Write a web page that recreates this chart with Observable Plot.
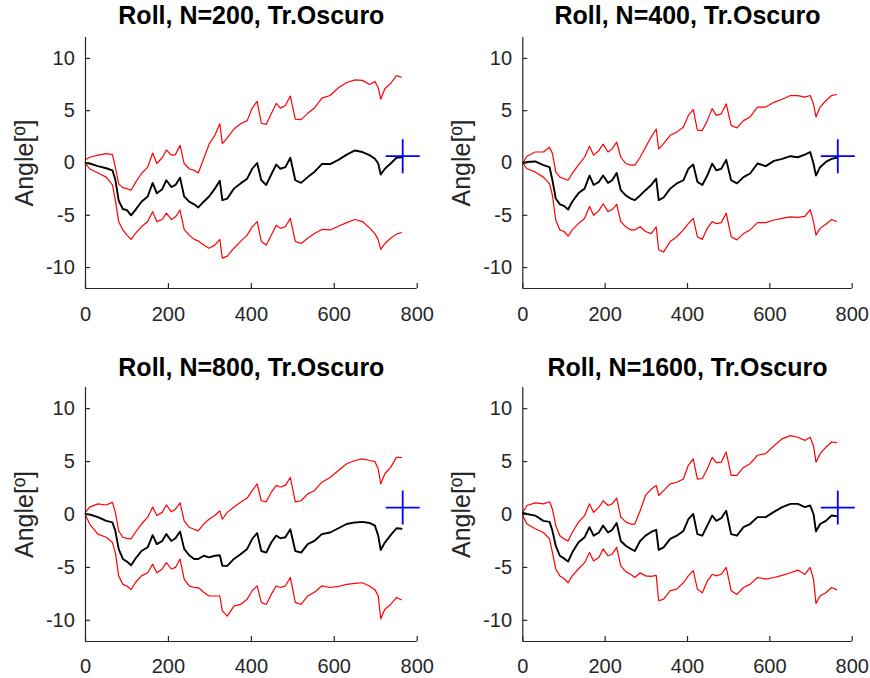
<!DOCTYPE html>
<html>
<head>
<meta charset="utf-8">
<script src="https://cdn.jsdelivr.net/npm/d3@7"></script>
<script src="https://cdn.jsdelivr.net/npm/@observablehq/plot@0.6"></script>
<style>
  html, body { margin: 0; padding: 0; background: #ffffff; }
  #fig { position: relative; width: 870px; height: 678px; overflow: hidden; }
  .panel { position: absolute; }
</style>
</head>
<body>
<div id="fig"></div>
<script>
// Sample positions (frame index) shared by every trace
const sampleX = [0,10,30,50,65,72,80,90,100,110,120,135,150,162,172,185,195,207,217,228,
  238,250,262,272,285,298,312,324,330,342,358,374,390,402,414,424,436,448,460,470,
  482,494,506,520,536,552,570,590,610,630,650,668,685,698,706,712,722,736,750,762];

// N = 200
const est200 = [0,-0.05,-0.3,-0.5,-0.7,-1.6,-3.6,-4.4,-4.5,-5.0,
  -4.5,-3.7,-3.2,-1.9,-2.9,-2.5,-1.65,-2.3,-2.1,-1.4,
  -3.2,-3.7,-3.95,-4.25,-3.7,-3.2,-2.45,-1.7,-3.55,-3.4,
  -2.45,-1.95,-1.5,-0.55,0,-1.65,-2.1,-1.1,-0.15,-0.55,
  -0.4,0.5,-1.65,-1.9,-1.35,-0.85,-0.1,-0.1,0.3,0.8,
  1.2,1.05,0.75,0.4,-0.05,-1.1,-0.55,-0.05,0.5,0.55];
const upper200 = [0.3,0.55,0.75,0.9,0.8,-0.4,-2.0,-2.35,-2.45,-2.6,
  -1.9,-1.0,-0.4,0.95,-0.05,0.5,1.25,0.75,0.8,1.7,
  -0.05,-0.55,-0.7,-0.95,0.4,1.8,2.65,3.75,1.85,2.4,
  3.25,3.75,4.05,5.25,5.9,3.8,3.7,4.7,5.7,5.25,
  5.5,6.4,4.2,4.15,4.75,5.25,6.2,6.45,7.2,7.7,
  7.95,7.9,7.5,7.8,7.2,6.1,7.1,7.6,8.35,8.2];
const lower200 = [-0.05,-0.55,-0.95,-1.35,-2.1,-3.55,-5.6,-6.4,-6.9,-7.3,
  -6.75,-6.1,-5.6,-4.65,-5.6,-5.4,-4.8,-5.4,-5.15,-4.5,
  -6.35,-6.9,-7.3,-7.45,-7.85,-8.15,-7.85,-7.3,-9.1,-8.9,
  -8.15,-7.5,-6.9,-6.1,-5.6,-7.5,-7.85,-6.9,-5.95,-6.25,
  -6.1,-5.3,-7.5,-7.7,-7.2,-6.75,-6.35,-6.4,-6.05,-5.7,
  -5.4,-5.6,-6.2,-6.75,-7.35,-8.25,-7.7,-7.2,-6.8,-6.65];

// N = 400
const est400 = [0,0.1,0.15,-0.2,-0.4,-1.65,-3.4,-3.95,-4.1,-4.45,
  -3.7,-2.9,-2.45,-1.2,-2.1,-1.8,-1.2,-1.9,-1.65,-0.95,
  -2.6,-3.1,-3.4,-3.55,-3.1,-2.6,-2.1,-1.5,-3.55,-3.3,
  -2.45,-1.95,-1.65,-0.55,-0.15,-1.8,-2.1,-1.2,-0.05,-0.7,
  -0.55,0.3,-1.65,-1.95,-1.35,-1.0,-0.05,-0.3,0.2,0.4,
  0.65,0.55,0.8,1.05,-0.05,-1.2,-0.4,0.1,0.4,0.5];
const upper400 = [0,0.65,1.05,1.05,1.5,0.9,-0.85,-1.35,-1.5,-1.65,
  -1.0,-0.2,0.55,1.6,0.75,1.2,1.8,1.05,1.35,2.0,
  0.55,-0.05,-0.2,-0.2,0.55,1.5,2.5,3.25,1.35,1.85,
  2.65,2.95,3.45,4.55,5.1,3.15,3.1,4.05,5.2,4.55,
  4.7,5.65,3.6,3.35,4.05,4.4,5.35,5.35,5.8,6.1,
  6.45,6.45,6.3,6.45,5.65,4.4,5.35,5.95,6.45,6.55];
const lower400 = [0,-0.55,-0.85,-1.35,-2.0,-3.1,-5.45,-6.4,-6.55,-7.0,
  -6.4,-5.8,-5.3,-4.15,-5.0,-4.55,-3.9,-4.65,-4.45,-3.95,
  -5.6,-6.1,-6.4,-6.4,-6.1,-6.55,-6.75,-6.1,-8.3,-8.5,
  -7.5,-7.05,-6.4,-5.8,-5.3,-7.05,-7.3,-6.25,-5.6,-5.8,
  -5.7,-4.8,-7.05,-7.35,-6.75,-6.4,-5.7,-5.7,-5.45,-5.3,
  -5.15,-5.2,-5.1,-4.45,-5.6,-6.9,-6.25,-5.85,-5.4,-5.6];

// N = 800
const est800 = [0.05,0,-0.25,-0.6,-0.75,-1.55,-3.25,-4.2,-4.45,-4.8,
  -4.2,-3.45,-3.1,-1.95,-2.8,-2.5,-1.85,-2.5,-2.25,-1.6,
  -3.25,-3.85,-4.2,-4.2,-3.9,-4.05,-3.9,-3.85,-4.85,-4.85,
  -4.2,-3.75,-3.25,-2.3,-1.75,-3.45,-3.6,-2.65,-2.0,-2.25,
  -2.15,-1.4,-3.45,-3.6,-2.8,-2.5,-1.85,-1.7,-1.3,-0.9,
  -0.75,-0.7,-0.8,-1.05,-2.0,-3.35,-2.65,-1.95,-1.3,-1.35];
const upper800 = [0.2,0.7,1.0,0.9,1.15,0.2,-1.55,-2.15,-2.25,-2.3,
  -1.7,-0.9,-0.25,0.7,-0.1,0.2,0.9,0.25,0.5,1.1,
  -0.6,-1.2,-1.4,-1.55,-0.9,-0.45,-0.1,0.35,-0.45,0.2,
  0.7,1.15,1.55,2.25,2.9,1.3,1.2,2.1,2.75,2.6,
  2.75,3.5,1.2,1.3,1.95,2.25,3.05,3.5,4.15,4.8,
  5.1,5.25,5.1,5.0,4.3,2.9,3.85,4.45,5.4,5.4];
const lower800 = [-0.05,-0.9,-1.85,-2.15,-2.65,-3.6,-5.8,-6.6,-6.75,-7.1,
  -6.45,-5.8,-5.5,-4.7,-5.5,-5.15,-4.55,-5.15,-5.0,-4.2,
  -6.1,-6.75,-6.9,-6.9,-7.35,-7.7,-7.7,-7.7,-9.1,-9.6,
  -8.65,-8.5,-8.0,-7.2,-6.75,-8.3,-8.5,-7.55,-6.75,-6.9,
  -6.75,-5.95,-8.3,-8.5,-7.7,-7.35,-6.75,-6.9,-6.8,-6.6,
  -6.5,-6.45,-6.75,-7.1,-7.7,-9.85,-8.95,-8.5,-7.85,-8.05];

// N = 1600
const est1600 = [0.15,0.05,-0.1,-0.6,-0.7,-1.55,-2.95,-3.9,-4.15,-4.45,
  -3.6,-2.65,-2.15,-1.2,-2.0,-1.7,-1.05,-1.7,-1.45,-0.8,
  -2.5,-2.95,-3.25,-3.45,-2.5,-2.0,-1.65,-1.45,-3.35,-3.1,
  -2.3,-2.0,-1.55,-0.45,0.05,-1.85,-2.0,-1.05,-0.1,-0.6,
  -0.35,0.35,-1.85,-2.0,-1.2,-0.9,-0.25,-0.25,0.25,0.7,
  1.0,1.0,0.7,0.85,0.05,-1.6,-0.9,-0.6,-0.1,-0.15];
const upper1600 = [0.2,0.85,1.1,1.0,1.2,0.5,-1.05,-2.0,-2.3,-2.5,
  -1.7,-0.75,-0.1,1.0,0.2,0.7,1.3,0.85,1.0,1.55,
  -0.25,-0.7,-0.9,-0.9,0.35,1.8,2.4,2.75,1.8,2.25,
  2.9,3.05,3.35,4.65,5.25,3.35,3.4,4.3,5.4,4.9,
  4.95,5.9,3.7,3.7,4.45,4.8,5.6,5.75,6.5,7.15,
  7.45,7.3,7.0,7.3,6.5,4.95,5.75,6.35,6.85,6.8];
const lower1600 = [-0.1,-0.9,-1.35,-1.7,-2.3,-3.6,-5.15,-5.8,-6.05,-6.45,
  -5.8,-5.15,-4.55,-3.6,-4.4,-4.05,-3.25,-3.9,-3.75,-3.1,
  -4.85,-5.4,-5.65,-5.95,-5.5,-5.8,-5.85,-5.75,-8.15,-8.0,
  -7.2,-7.05,-6.45,-5.8,-5.3,-7.05,-7.4,-6.3,-5.65,-5.8,
  -5.65,-5.0,-7.2,-7.55,-6.9,-6.6,-5.95,-6.1,-5.95,-5.75,
  -5.5,-5.25,-5.65,-5.0,-6.1,-8.4,-7.7,-7.4,-6.9,-7.1];

// Reference (ground-truth) point drawn as a "+"
const refX = [765];
const refY = [0.65];

// Axis ticks and text
const xTicks = [0, 200, 400, 600, 800];
const yTicks = [-10, -5, 0, 5, 10];
const panelTitles = ["Roll, N=200, Tr.Oscuro", "Roll, N=400, Tr.Oscuro",
                     "Roll, N=800, Tr.Oscuro", "Roll, N=1600, Tr.Oscuro"];
const yLabel = "Angle[º]";

const series = [
  {est: est200, up: upper200, lo: lower200},
  {est: est400, up: upper400, lo: lower400},
  {est: est800, up: upper800, lo: lower800},
  {est: est1600, up: upper1600, lo: lower1600}
];

// Subplot placement in the 2x2 grid
const layout = [
  {left: 0,   top: 0,   mL: 85,   mT: 37, mB: 51, titleDy: -21.3, xPad: 18},
  {left: 435, top: 0,   mL: 87.3, mT: 37, mB: 51, titleDy: -21.3, xPad: 18},
  {left: 0,   top: 339, mL: 85,   mT: 48, mB: 37, titleDy: -19.7, xPad: 17},
  {left: 435, top: 339, mL: 87.3, mT: 48, mB: 37, titleDy: -19.7, xPad: 17}
];

const ink = "#262626";
const font = "'Liberation Sans', Arial, Helvetica, sans-serif";

// Thin-line "+" marker
const plusSymbol = {
  draw(context, size) {
    const h = Math.sqrt(size / Math.PI);
    context.moveTo(-h, 0); context.lineTo(h, 0);
    context.moveTo(0, -h); context.lineTo(0, h);
  }
};

const fig = document.getElementById("fig");

series.forEach((s, k) => {
  const L = layout[k];
  const rows = sampleX.map((x, i) => ({x, est: s.est[i], up: s.up[i], lo: s.lo[i]}));
  const ref = refX.map((x, i) => ({x, y: refY[i]}));

  const chart = Plot.plot({
    width: 435,
    height: 339,
    marginLeft: L.mL,
    marginRight: 18.3,
    marginTop: L.mT,
    marginBottom: L.mB,
    style: {fontFamily: font, color: ink, background: "transparent", overflow: "visible"},
    x: {domain: [0, 800], label: null},
    y: {domain: [-12, 12], label: null},
    marks: [
      Plot.line(rows, {x: "x", y: "up", stroke: "#ff0000", strokeWidth: 1.2}),
      Plot.line(rows, {x: "x", y: "lo", stroke: "#ff0000", strokeWidth: 1.2}),
      Plot.line(rows, {x: "x", y: "est", stroke: "#000000", strokeWidth: 1.9}),
      Plot.dot(ref, {x: "x", y: "y", r: 17, symbol: plusSymbol, stroke: "#0000ff", fill: "none", strokeWidth: 1.8}),
      // axis lines (left and bottom only)
      Plot.ruleX([0], {stroke: ink, strokeWidth: 1.2}),
      Plot.ruleY([-12], {stroke: ink, strokeWidth: 1.2}),
      // inward tick marks
      Plot.axisX({ticks: xTicks, tickSize: -5, tickFormat: () => "", stroke: ink, strokeWidth: 1.2, label: null}),
      Plot.axisY({ticks: yTicks, tickSize: -5, tickFormat: () => "", stroke: ink, strokeWidth: 1.2, label: null}),
      // tick labels
      Plot.axisX({ticks: xTicks, tickSize: 0, tickPadding: L.xPad, fontSize: 20, tickFormat: d => String(d), fill: ink, label: null}),
      Plot.axisY({ticks: yTicks, tickSize: 0, tickPadding: 10.7, fontSize: 20, tickFormat: d => String(d), fill: ink, label: null}),
      // y label and title
      Plot.text([yLabel], {frameAnchor: "left", dx: -61, rotate: -90, fontSize: 25, fill: ink, textAnchor: "middle"}),
      Plot.text([panelTitles[k]], {frameAnchor: "top", dy: L.titleDy, fontSize: 25, fontWeight: "bold", fill: "#000000", textAnchor: "middle", lineAnchor: "middle"})
    ]
  });

  const holder = document.createElement("div");
  holder.className = "panel";
  holder.style.left = L.left + "px";
  holder.style.top = L.top + "px";
  holder.appendChild(chart);
  fig.appendChild(holder);
});
</script>
</body>
</html>
